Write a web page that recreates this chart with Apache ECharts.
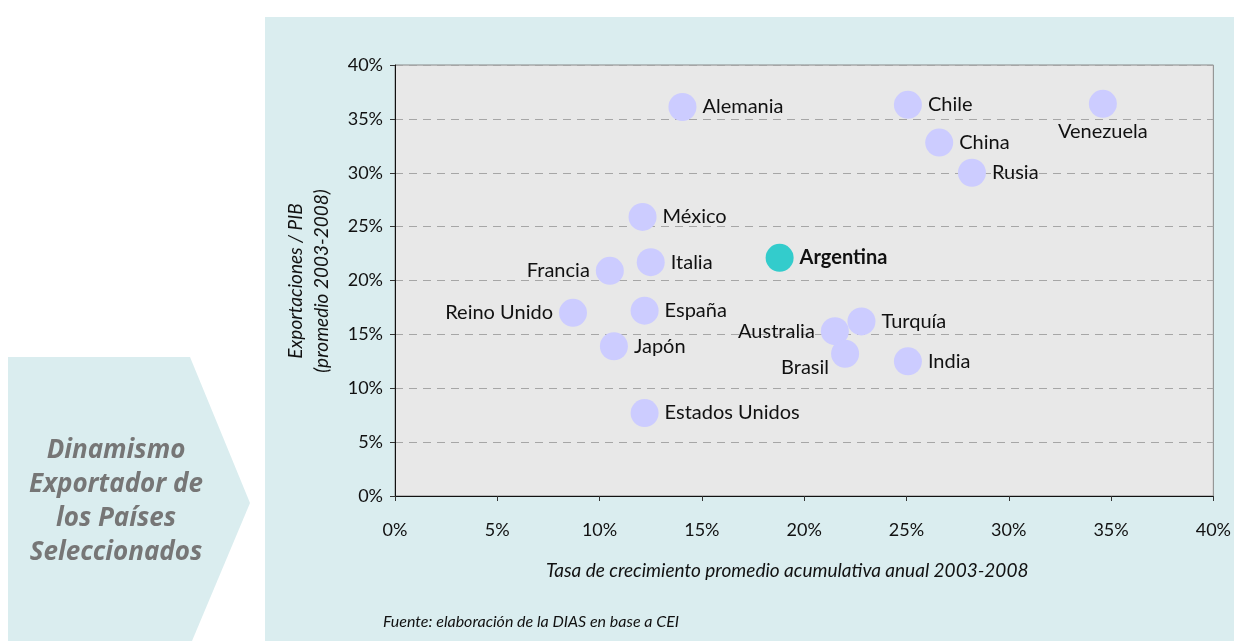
<!DOCTYPE html>
<html>
<head>
<meta charset="utf-8">
<script src="https://cdn.jsdelivr.net/npm/echarts@6/dist/echarts.min.js"></script>
<style>
  html, body { margin: 0; padding: 0; background: #fff; }
  #chart { width: 1234px; height: 641px; }
</style>
</head>
<body>
<div id="chart"></div>
<script>
// datos (tasa de crecimiento %, exportaciones/PIB %)
const paises = ['Alemania', 'Chile', 'Venezuela', 'China', 'Rusia', 'México', 'Argentina', 'Italia',
  'Francia', 'Reino Unido', 'España', 'Turquía', 'Australia', 'Japón', 'Brasil', 'India', 'Estados Unidos']
const crecimiento = [14.05, 25.07, 34.6, 26.6, 28.2, 12.1, 18.8, 12.5,
  10.5, 8.7, 12.2, 22.8, 21.5, 10.7, 22.0, 25.07, 12.2]
const exportPib = [36.1, 36.3, 36.4, 32.8, 30.0, 25.9, 22.1, 21.7,
  20.9, 17.0, 17.2, 16.2, 15.3, 13.9, 13.2, 12.5, 7.7]
const ticksPct = [0, 5, 10, 15, 20, 25, 30, 35, 40]

// posicion de etiqueta (solo estilo)
const posEtiqueta = {
  'Venezuela': { position: 'bottom', distance: 4 },
  'Francia': { position: 'left' },
  'Reino Unido': { position: 'left' },
  'Australia': { position: 'left' },
  'Brasil': { position: [-50, 18] }
}

const chart = echarts.init(document.getElementById('chart'))

const datos = paises.map((p, i) => {
  let item = { name: p, value: [crecimiento[i], exportPib[i]] }
  let lbl = Object.assign({}, posEtiqueta[p] || {})
  if (p == 'Argentina') {
    item.itemStyle = { color: '#33cccc' }
    lbl.fontWeight = 'bold'
  }
  item.label = lbl
  return item
})

const fuente = 'Lato, "Open Sans", sans-serif'

chart.setOption({
  animation: false,
  textStyle: { fontFamily: fuente },
  graphic: [
    { type: 'rect', shape: { x: 265, y: 17, width: 969, height: 624 }, style: { fill: '#daedef' }, z: -10 },
    { type: 'polygon', shape: { points: [[8, 357], [190, 357], [250, 503], [192, 641], [8, 641]] },
      style: { fill: '#daedef' }, z: -10 },
    { type: 'text', x: 116, y: 502,
      style: { text: 'Dinamismo\nExportador de\nlos Países\nSeleccionados', fill: '#767676',
        font: 'italic bold 26px "Open Sans", sans-serif', align: 'center', verticalAlign: 'middle', lineHeight: 34 } },
    { type: 'text', x: 309, y: 281, rotation: Math.PI / 2,
      style: { text: 'Exportaciones / PIB\n(promedio 2003-2008)', fill: '#111',
        font: 'italic 19px ' + fuente, align: 'center', verticalAlign: 'middle', lineHeight: 26 } },
    { type: 'text', x: 383, y: 622,
      style: { text: 'Fuente: elaboración de la DIAS en base a CEI', fill: '#111',
        font: 'italic 16px ' + fuente, verticalAlign: 'middle' } }
  ],
  grid: {
    left: 395, right: 19, top: 65, bottom: 145,
    show: true, backgroundColor: '#e8e8e8', borderColor: '#888', borderWidth: 1
  },
  xAxis: {
    type: 'value', min: ticksPct[0], max: ticksPct[ticksPct.length - 1], interval: 5,
    name: 'Tasa de crecimiento promedio acumulativa anual 2003-2008',
    nameLocation: 'middle', nameGap: 65,
    nameTextStyle: { fontStyle: 'italic', fontSize: 19, color: '#111', padding: [0, 34, 0, 0] },
    axisLine: { show: true, lineStyle: { color: '#111', width: 1 } },
    axisTick: { show: true, length: 5, lineStyle: { color: '#333' } },
    axisLabel: { formatter: '{value}%', fontSize: 18, color: '#111', margin: 25 },
    splitLine: { show: false }
  },
  yAxis: {
    type: 'value', min: ticksPct[0], max: ticksPct[ticksPct.length - 1], interval: 5,
    axisLine: { show: true, lineStyle: { color: '#111', width: 1 } },
    axisTick: { show: true, length: 5, lineStyle: { color: '#333' } },
    axisLabel: { formatter: '{value}%', fontSize: 18, color: '#111', margin: 12 },
    splitLine: { show: true, lineStyle: { color: '#a6a6a6', type: [8, 6] } }
  },
  series: [{
    type: 'scatter',
    symbolSize: 28,
    itemStyle: { color: '#ccccff', opacity: 1 },
    label: {
      show: true, position: 'right', distance: 6,
      formatter: '{b}', fontSize: 20, color: '#111'
    },
    data: datos
  }]
})
</script>
</body>
</html>
